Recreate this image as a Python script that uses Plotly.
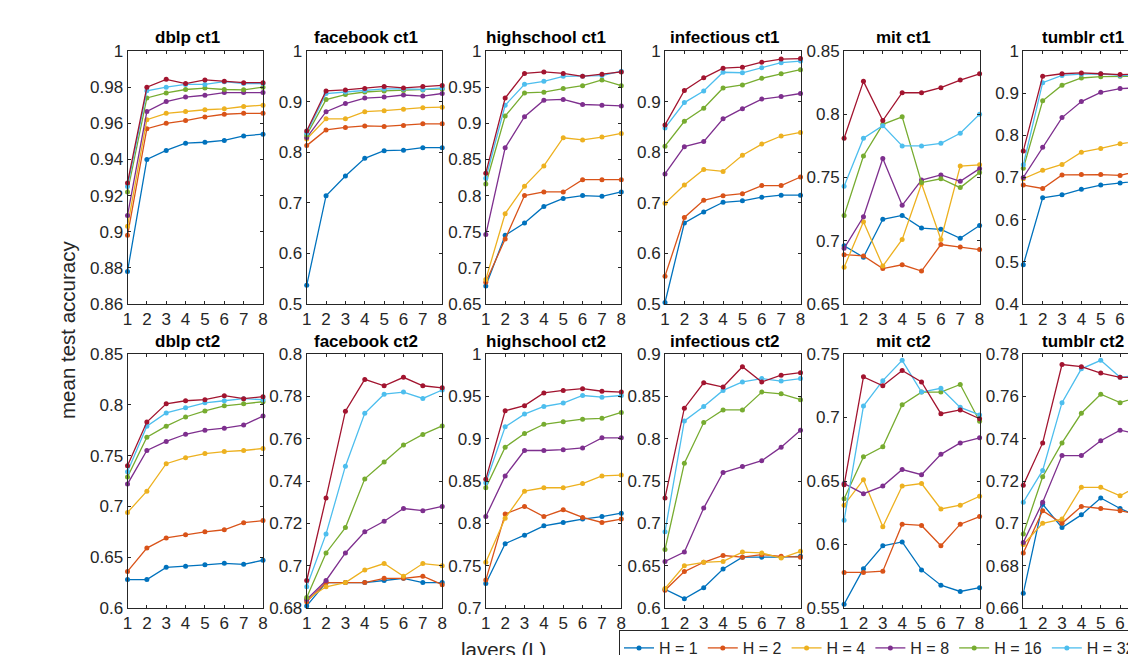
import plotly.graph_objects as go

# ---------------- data ----------------
layers = [1, 2, 3, 4, 5, 6, 7, 8]
series_names = ["H = 1", "H = 2", "H = 4", "H = 8", "H = 16", "H = 32", "H = 64"]
series_colors = ["#0072BD", "#D95319", "#EDB120", "#7E2F8E", "#77AC30", "#4DBEEE", "#A2142F"]

panel_titles = ["dblp ct1", "facebook ct1", "highschool ct1", "infectious ct1", "mit ct1", "tumblr ct1",
                "dblp ct2", "facebook ct2", "highschool ct2", "infectious ct2", "mit ct2", "tumblr ct2"]

# each panel: one list per H (1, 2, 4, 8, 16, 32, 64)
dblp_ct1 = [
    [0.878, 0.940, 0.945, 0.949, 0.9495, 0.9505, 0.953, 0.954],
    [0.898, 0.957, 0.960, 0.9615, 0.9635, 0.965, 0.9655, 0.9655],
    [0.903, 0.962, 0.9655, 0.9665, 0.9675, 0.968, 0.9693, 0.970],
    [0.909, 0.9665, 0.972, 0.9745, 0.9755, 0.977, 0.977, 0.977],
    [0.922, 0.974, 0.9768, 0.9787, 0.9795, 0.9787, 0.9785, 0.980],
    [0.925, 0.978, 0.980, 0.9815, 0.9815, 0.983, 0.982, 0.982],
    [0.927, 0.980, 0.9843, 0.982, 0.984, 0.9833, 0.9825, 0.9825],
]
facebook_ct1 = [
    [0.537, 0.714, 0.753, 0.788, 0.803, 0.804, 0.809, 0.809],
    [0.813, 0.844, 0.849, 0.852, 0.851, 0.853, 0.856, 0.856],
    [0.826, 0.866, 0.866, 0.880, 0.882, 0.885, 0.888, 0.889],
    [0.829, 0.880, 0.896, 0.907, 0.909, 0.913, 0.911, 0.916],
    [0.834, 0.904, 0.914, 0.919, 0.921, 0.922, 0.923, 0.925],
    [0.838, 0.916, 0.919, 0.922, 0.925, 0.925, 0.924, 0.927],
    [0.842, 0.921, 0.923, 0.926, 0.930, 0.927, 0.930, 0.932],
]
highschool_ct1 = [
    [0.675, 0.745, 0.762, 0.785, 0.796, 0.800, 0.799, 0.805],
    [0.680, 0.740, 0.800, 0.805, 0.805, 0.822, 0.822, 0.822],
    [0.684, 0.775, 0.813, 0.841, 0.880, 0.877, 0.881, 0.886],
    [0.746, 0.866, 0.909, 0.932, 0.933, 0.926, 0.925, 0.924],
    [0.816, 0.910, 0.942, 0.943, 0.948, 0.952, 0.960, 0.952],
    [0.824, 0.925, 0.954, 0.958, 0.965, 0.965, 0.966, 0.972],
    [0.831, 0.935, 0.969, 0.971, 0.969, 0.965, 0.968, 0.971],
]
infectious_ct1 = [
    [0.503, 0.660, 0.682, 0.701, 0.704, 0.711, 0.715, 0.715],
    [0.555, 0.671, 0.705, 0.714, 0.718, 0.734, 0.734, 0.751],
    [0.699, 0.735, 0.766, 0.762, 0.794, 0.816, 0.832, 0.839],
    [0.757, 0.811, 0.821, 0.866, 0.886, 0.905, 0.910, 0.916],
    [0.812, 0.861, 0.887, 0.927, 0.933, 0.946, 0.955, 0.963],
    [0.848, 0.898, 0.921, 0.958, 0.957, 0.967, 0.977, 0.980],
    [0.854, 0.922, 0.947, 0.966, 0.968, 0.978, 0.984, 0.985],
]
mit_ct1 = [
    [0.696, 0.687, 0.717, 0.720, 0.710, 0.709, 0.702, 0.712],
    [0.689, 0.688, 0.678, 0.681, 0.676, 0.697, 0.695, 0.693],
    [0.679, 0.715, 0.680, 0.701, 0.745, 0.701, 0.759, 0.760],
    [0.694, 0.719, 0.765, 0.728, 0.748, 0.752, 0.747, 0.757],
    [0.720, 0.767, 0.792, 0.798, 0.746, 0.749, 0.742, 0.754],
    [0.743, 0.781, 0.791, 0.775, 0.775, 0.777, 0.785, 0.800],
    [0.781, 0.826, 0.795, 0.817, 0.817, 0.821, 0.827, 0.832],
]
tumblr_ct1 = [
    [0.493, 0.652, 0.659, 0.672, 0.682, 0.687, 0.692, 0.697],
    [0.682, 0.674, 0.706, 0.707, 0.707, 0.705, 0.716, 0.718],
    [0.697, 0.717, 0.731, 0.760, 0.769, 0.780, 0.787, 0.790],
    [0.700, 0.772, 0.842, 0.880, 0.902, 0.911, 0.912, 0.914],
    [0.722, 0.882, 0.919, 0.936, 0.939, 0.940, 0.941, 0.941],
    [0.730, 0.925, 0.942, 0.945, 0.946, 0.942, 0.943, 0.944],
    [0.763, 0.940, 0.946, 0.948, 0.946, 0.944, 0.945, 0.945],
]
dblp_ct2 = [
    [0.628, 0.628, 0.640, 0.641, 0.6425, 0.644, 0.643, 0.647],
    [0.636, 0.659, 0.669, 0.672, 0.675, 0.677, 0.684, 0.686],
    [0.694, 0.715, 0.742, 0.748, 0.752, 0.754, 0.755, 0.757],
    [0.722, 0.755, 0.764, 0.771, 0.775, 0.777, 0.780, 0.789],
    [0.729, 0.768, 0.779, 0.788, 0.794, 0.799, 0.801, 0.803],
    [0.734, 0.779, 0.792, 0.797, 0.802, 0.804, 0.806, 0.805],
    [0.740, 0.783, 0.801, 0.804, 0.805, 0.809, 0.806, 0.808],
]
facebook_ct2 = [
    [0.681, 0.692, 0.692, 0.692, 0.693, 0.694, 0.692, 0.692],
    [0.683, 0.692, 0.692, 0.692, 0.694, 0.694, 0.695, 0.691],
    [0.684, 0.690, 0.692, 0.698, 0.701, 0.695, 0.701, 0.700],
    [0.684, 0.693, 0.706, 0.716, 0.721, 0.727, 0.726, 0.728],
    [0.685, 0.706, 0.718, 0.741, 0.749, 0.757, 0.762, 0.766],
    [0.690, 0.715, 0.747, 0.772, 0.781, 0.782, 0.779, 0.783],
    [0.693, 0.732, 0.773, 0.788, 0.785, 0.789, 0.785, 0.784],
]
highschool_ct2 = [
    [0.729, 0.776, 0.786, 0.797, 0.801, 0.805, 0.808, 0.812],
    [0.733, 0.811, 0.820, 0.808, 0.816, 0.807, 0.801, 0.805],
    [0.754, 0.806, 0.838, 0.842, 0.842, 0.847, 0.856, 0.857],
    [0.808, 0.856, 0.886, 0.886, 0.887, 0.889, 0.901, 0.901],
    [0.842, 0.890, 0.906, 0.917, 0.920, 0.923, 0.924, 0.931],
    [0.848, 0.914, 0.929, 0.938, 0.942, 0.951, 0.949, 0.951],
    [0.852, 0.933, 0.939, 0.954, 0.957, 0.959, 0.956, 0.955],
]
infectious_ct2 = [
    [0.622, 0.611, 0.624, 0.646, 0.660, 0.660, 0.660, 0.661],
    [0.621, 0.643, 0.654, 0.662, 0.660, 0.663, 0.661, 0.660],
    [0.623, 0.650, 0.654, 0.655, 0.666, 0.665, 0.659, 0.667],
    [0.655, 0.666, 0.718, 0.760, 0.767, 0.774, 0.790, 0.810],
    [0.669, 0.771, 0.819, 0.834, 0.834, 0.855, 0.853, 0.846],
    [0.690, 0.821, 0.838, 0.857, 0.867, 0.871, 0.868, 0.871],
    [0.730, 0.836, 0.866, 0.861, 0.885, 0.867, 0.875, 0.878],
]
mit_ct2 = [
    [0.553, 0.581, 0.599, 0.602, 0.580, 0.568, 0.563, 0.566],
    [0.578, 0.578, 0.579, 0.616, 0.615, 0.599, 0.616, 0.622],
    [0.631, 0.651, 0.614, 0.646, 0.648, 0.628, 0.631, 0.638],
    [0.648, 0.640, 0.646, 0.659, 0.655, 0.671, 0.680, 0.684],
    [0.636, 0.669, 0.677, 0.710, 0.720, 0.720, 0.726, 0.697],
    [0.619, 0.709, 0.729, 0.745, 0.720, 0.723, 0.708, 0.702],
    [0.647, 0.732, 0.725, 0.737, 0.728, 0.703, 0.706, 0.699],
]
tumblr_ct2 = [
    [0.667, 0.709, 0.698, 0.704, 0.712, 0.707, 0.703, 0.705],
    [0.686, 0.706, 0.700, 0.708, 0.707, 0.706, 0.704, 0.706],
    [0.690, 0.700, 0.702, 0.717, 0.717, 0.713, 0.718, 0.716],
    [0.691, 0.710, 0.732, 0.732, 0.739, 0.744, 0.742, 0.744],
    [0.695, 0.722, 0.738, 0.752, 0.761, 0.757, 0.760, 0.758],
    [0.710, 0.725, 0.757, 0.773, 0.777, 0.769, 0.770, 0.769],
    [0.718, 0.738, 0.775, 0.774, 0.771, 0.769, 0.769, 0.768],
]

# tick labels
x_tick_labels = ["1", "2", "3", "4", "5", "6", "7", "8"]
yt_dblp_ct1 = ["0.86", "0.88", "0.9", "0.92", "0.94", "0.96", "0.98", "1"]
yt_facebook_ct1 = ["0.5", "0.6", "0.7", "0.8", "0.9", "1"]
yt_highschool_ct1 = ["0.65", "0.7", "0.75", "0.8", "0.85", "0.9", "0.95", "1"]
yt_infectious_ct1 = ["0.5", "0.6", "0.7", "0.8", "0.9", "1"]
yt_mit_ct1 = ["0.65", "0.7", "0.75", "0.8", "0.85"]
yt_tumblr_ct1 = ["0.4", "0.5", "0.6", "0.7", "0.8", "0.9", "1"]
yt_dblp_ct2 = ["0.6", "0.65", "0.7", "0.75", "0.8", "0.85"]
yt_facebook_ct2 = ["0.68", "0.7", "0.72", "0.74", "0.76", "0.78", "0.8"]
yt_highschool_ct2 = ["0.7", "0.75", "0.8", "0.85", "0.9", "0.95", "1"]
yt_infectious_ct2 = ["0.6", "0.65", "0.7", "0.75", "0.8", "0.85", "0.9"]
yt_mit_ct2 = ["0.55", "0.6", "0.65", "0.7", "0.75"]
yt_tumblr_ct2 = ["0.66", "0.68", "0.7", "0.72", "0.74", "0.76", "0.78"]

panel_data = [dblp_ct1, facebook_ct1, highschool_ct1, infectious_ct1, mit_ct1, tumblr_ct1,
              dblp_ct2, facebook_ct2, highschool_ct2, infectious_ct2, mit_ct2, tumblr_ct2]
panel_yticks = [yt_dblp_ct1, yt_facebook_ct1, yt_highschool_ct1, yt_infectious_ct1, yt_mit_ct1, yt_tumblr_ct1,
                yt_dblp_ct2, yt_facebook_ct2, yt_highschool_ct2, yt_infectious_ct2, yt_mit_ct2, yt_tumblr_ct2]

# ---------------- layout geometry (pixels) ----------------
W, HT = 1250, 655
col_left = [127.5, 306.7, 485.8, 665.0, 844.1, 1023.3]
plot_w = 135.5
row_top = [51, 354]
row_bot = [304, 608]
title_y = [37, 341]

FONT = "Liberation Sans, Arial, Helvetica, sans-serif"
AX = "#262626"

fig = go.Figure()
layout = dict(
    width=W, height=HT,
    margin=dict(l=0, r=0, t=0, b=0, autoexpand=False),
    paper_bgcolor="white", plot_bgcolor="white",
    font=dict(family=FONT, size=17, color=AX),
    showlegend=True,
    legend=dict(orientation="h", x=619 / W, y=1 - 630 / HT, xanchor="left", yanchor="top",
                bordercolor=AX, borderwidth=1, bgcolor="white",
                font=dict(family=FONT, size=16, color=AX), itemwidth=30, tracegroupgap=0),
)
annotations = []

for p in range(12):
    r, c = divmod(p, 6)
    n = p + 1
    xs = "" if n == 1 else str(n)
    x0, x1 = col_left[c] / W, (col_left[c] + plot_w) / W
    y0, y1 = 1 - row_bot[r] / HT, 1 - row_top[r] / HT
    yt = panel_yticks[p]
    yvals = [float(t) for t in yt]
    layout["xaxis" + xs] = dict(
        domain=[x0, x1], anchor="y" + xs, range=[1, 8],
        tickvals=layers, ticktext=x_tick_labels,
        ticks="inside", ticklen=3, tickcolor=AX, showline=True, linecolor=AX, linewidth=1,
        mirror="ticks", showgrid=False, zeroline=False,
        tickfont=dict(family=FONT, size=17, color=AX),
    )
    layout["yaxis" + xs] = dict(
        domain=[y0, y1], anchor="x" + xs, range=[yvals[0], yvals[-1]],
        tickvals=yvals, ticktext=yt,
        ticks="inside", ticklen=3, tickcolor=AX, showline=True, linecolor=AX, linewidth=1,
        mirror="ticks", showgrid=False, zeroline=False,
        tickfont=dict(family=FONT, size=17, color=AX),
    )
    for k, vals in enumerate(panel_data[p]):
        fig.add_trace(go.Scatter(
            x=layers, y=vals, mode="lines+markers", name=series_names[k],
            legendgroup=series_names[k], showlegend=(p == 0),
            line=dict(color=series_colors[k], width=1.3),
            marker=dict(color=series_colors[k], size=5),
            cliponaxis=False, xaxis="x" + xs, yaxis="y" + xs,
        ))
    annotations.append(dict(
        text="<b>" + panel_titles[p] + "</b>", xref="paper", yref="paper",
        x=(col_left[c] + plot_w / 2 - 8) / W, y=1 - title_y[r] / HT,
        xanchor="center", yanchor="middle", showarrow=False,
        font=dict(family=FONT, size=17, color="black"),
    ))

annotations.append(dict(text="mean test accuracy", xref="paper", yref="paper",
                        x=68 / W, y=1 - 330 / HT, xanchor="center", yanchor="middle",
                        textangle=-90, showarrow=False,
                        font=dict(family=FONT, size=20.5, color=AX)))
annotations.append(dict(text="layers (L)", xref="paper", yref="paper",
                        x=503 / W, y=1 - 649 / HT, xanchor="center", yanchor="middle",
                        showarrow=False, font=dict(family=FONT, size=20.5, color=AX)))
layout["annotations"] = annotations
fig.update_layout(**layout)
fig.write_html("out.html")
